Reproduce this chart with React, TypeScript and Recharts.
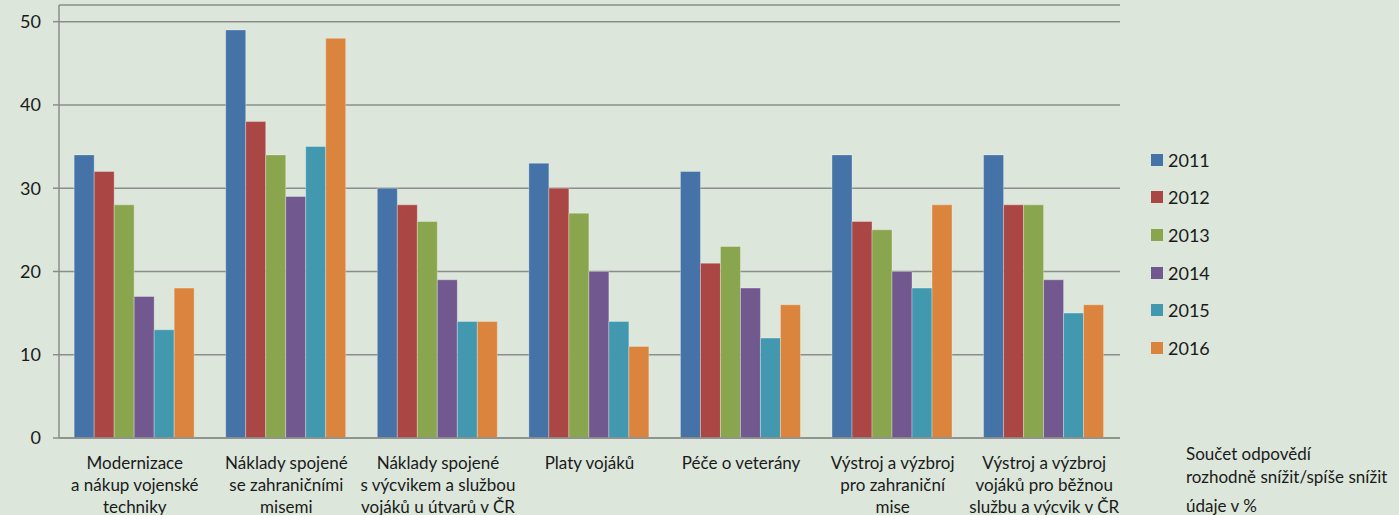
import React from "react";
import { Bar, BarChart, CartesianGrid, Legend, XAxis, YAxis } from "recharts";

const categories = [
  "Modernizace a nákup vojenské techniky",
  "Náklady spojené se zahraničními misemi",
  "Náklady spojené s výcvikem a službou vojáků u útvarů v ČR",
  "Platy vojáků",
  "Péče o veterány",
  "Výstroj a výzbroj pro zahraniční mise",
  "Výstroj a výzbroj vojáků pro běžnou službu a výcvik v ČR",
];

const tickLines = [
  ["Modernizace", "a nákup vojenské", "techniky"],
  ["Náklady spojené", "se zahraničními", "misemi"],
  ["Náklady spojené", "s výcvikem a službou", "vojáků u útvarů v ČR"],
  ["Platy vojáků"],
  ["Péče o veterány"],
  ["Výstroj a výzbroj", "pro zahraniční", "mise"],
  ["Výstroj a výzbroj", "vojáků pro běžnou", "službu a výcvik v ČR"],
];

const years = ["2011", "2012", "2013", "2014", "2015", "2016"];
const colors = ["#4572a7", "#aa4643", "#89a54e", "#71588f", "#4198af", "#db843d"];

const v2011 = [34, 49, 30, 33, 32, 34, 34];
const v2012 = [32, 38, 28, 30, 21, 26, 28];
const v2013 = [28, 34, 26, 27, 23, 25, 28];
const v2014 = [17, 29, 19, 20, 18, 20, 19];
const v2015 = [13, 35, 14, 14, 12, 18, 15];
const v2016 = [18, 48, 14, 11, 16, 28, 16];

const yTicks = [0, 10, 20, 30, 40, 50];
const edgeTicks = [0, 1, 2, 3, 4, 5, 6, 7];

const series = [v2011, v2012, v2013, v2014, v2015, v2016];
const data = categories.map((name, i) => {
  const row: Record<string, any> = { name, idx: i };
  years.forEach((y, s) => {
    row[y] = series[s][i];
  });
  return row;
});

const FONT = "Lato, 'Open Sans', sans-serif";

const CategoryTick = (props: any) => {
  const { x, y, index } = props;
  const lines = tickLines[index] || [];
  return (
    <g transform={`translate(${x},${y})`}>
      {lines.map((l, k) => (
        <text
          key={k}
          x={0}
          y={23 + k * 22}
          textAnchor="middle"
          fontSize={17}
          fontFamily={FONT}
          fill="#1a1a1a"
        >
          {l}
        </text>
      ))}
    </g>
  );
};

const LegendContent = () => (
  <div style={{ fontFamily: FONT, fontSize: 18, color: "#1a1a1a" }}>
    {years.map((y, i) => (
      <div
        key={y}
        style={{ display: "flex", alignItems: "center", height: 37.6 }}
      >
        <span
          style={{
            display: "inline-block",
            width: 12,
            height: 12,
            background: colors[i],
            marginRight: 5,
          }}
        />
        {y}
      </div>
    ))}
  </div>
);

export default function App() {
  return (
    <div
      style={{
        position: "fixed",
        left: 0,
        top: 0,
        width: 1399,
        height: 515,
        background: "#dce6da",
        overflow: "hidden",
      }}
    >
      <BarChart
        width={1399}
        height={515}
        data={data}
        margin={{ top: 5, right: 159, left: 0, bottom: 0 }}
        barCategoryGap="10%"
        barGap={0}
      >
        <CartesianGrid vertical={false} stroke="#8c8c8c" strokeWidth={1.5} />
        <XAxis
          xAxisId="edges"
          type="number"
          dataKey="idx"
          domain={[0, 7]}
          ticks={edgeTicks}
          allowDataOverflow
          tick={false}
          tickLine={{ stroke: "#8c8c8c", strokeWidth: 1.5 }}
          tickSize={7}
          axisLine={false}
          height={1}
        />
        <XAxis
          dataKey="name"
          interval={0}
          tick={<CategoryTick />}
          tickLine={false}
          axisLine={{ stroke: "#8c8c8c", strokeWidth: 1.5 }}
          height={76}
        />
        <YAxis
          domain={[0, 52]}
          ticks={yTicks}
          allowDataOverflow
          width={59}
          tickSize={6}
          tickMargin={12}
          tickLine={{ stroke: "#8c8c8c", strokeWidth: 1.5 }}
          axisLine={{ stroke: "#8c8c8c", strokeWidth: 1.5 }}
          tick={{ fontSize: 18, fontFamily: FONT, fill: "#1a1a1a" }}
        />
        <Legend
          layout="vertical"
          align="right"
          verticalAlign="top"
          content={<LegendContent />}
          wrapperStyle={{ top: 141, left: 1151, width: 120 }}
        />
        {years.map((y, i) => (
          <Bar
            key={y}
            dataKey={y}
            fill={colors[i]}
            stroke="rgba(255,255,255,0.3)"
            strokeWidth={1}
            isAnimationActive={false}
          />
        ))}
      </BarChart>
      <div
        style={{
          position: "absolute",
          left: 1186,
          top: 442,
          fontFamily: FONT,
          fontSize: 17,
          color: "#1a1a1a",
          lineHeight: "23px",
          whiteSpace: "nowrap",
        }}
      >
        <div>Součet odpovědí</div>
        <div>rozhodně snížit/spíše snížit</div>
        <div style={{ marginTop: 6 }}>údaje v %</div>
      </div>
    </div>
  );
}
